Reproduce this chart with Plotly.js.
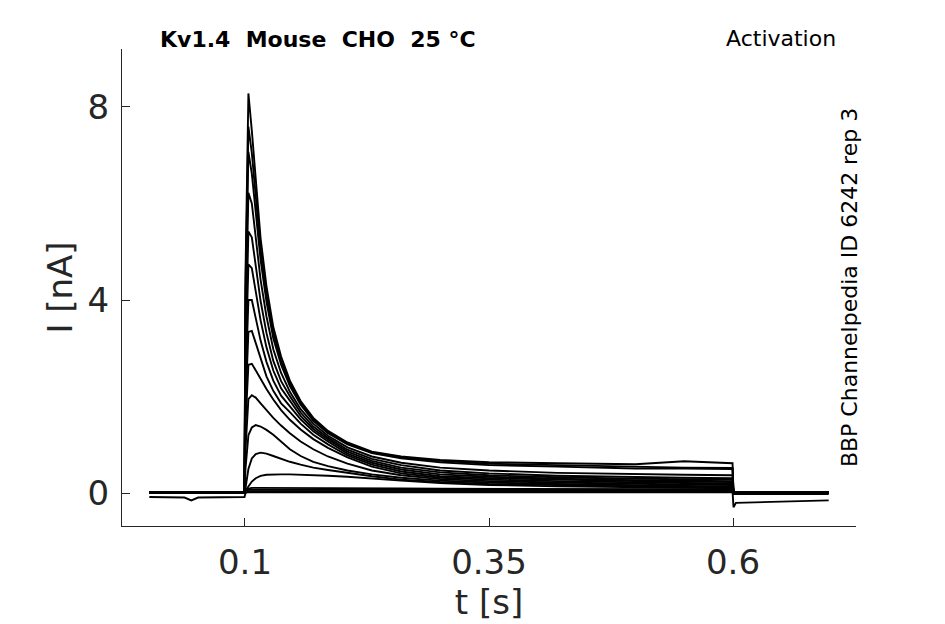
<!DOCTYPE html>
<html>
<head>
<meta charset="utf-8">
<script src="https://cdn.plot.ly/plotly-3.0.1.min.js"></script>
<style>
  html, body { margin: 0; padding: 0; background: white; }
  #chart { width: 945px; height: 624px; }
</style>
</head>
<body>
<div id="chart"></div>
<script>
// sample times [s] shared by all sweeps
var tSec = [0.002, 0.038, 0.045, 0.052, 0.0995, 0.1005, 0.1035, 0.107, 0.111, 0.116,
            0.122, 0.129, 0.137, 0.146, 0.157, 0.17, 0.185, 0.205, 0.23, 0.26,
            0.3, 0.35, 0.42, 0.5, 0.55, 0.5995, 0.6005, 0.603, 0.698];

// current [nA] per sweep
var sweep1  = [0.02,0.02,0.02,0.02,0.02, 4.5, 8.28,7.51,6.44,5.28,4.29,3.44,2.83,2.33,1.91,1.56,1.29,1.05,0.86,0.76,0.69,0.64,0.62,0.60,0.66,0.62, 0.01,0.01,0.02];
var sweep2  = [0.02,0.02,0.02,0.02,0.02, 4.2, 7.59,7.05,6.10,5.05,4.12,3.32,2.74,2.27,1.87,1.53,1.27,1.03,0.84,0.74,0.67,0.61,0.58,0.54,0.53,0.52, 0.0,0.0,0.01];
var sweep3  = [0.01,0.01,0.01,0.01,0.01, 3.9, 7.07,6.62,5.78,4.83,3.97,3.21,2.66,2.22,1.83,1.50,1.24,1.01,0.83,0.72,0.64,0.58,0.55,0.51,0.51,0.50, 0.02,0.02,0.02];
var sweep4  = [0.02,0.02,0.02,0.02,0.02, 3.4, 6.22,6.00,5.25,4.42,3.66,2.98,2.49,2.10,1.74,1.44,1.19,0.95,0.76,0.63,0.53,0.47,0.42,0.39,0.38,0.37, 0.0,0.01,0.0];
var sweep5  = [0.02,0.02,0.02,0.02,0.02, 3.0, 5.42,5.30,4.70,3.98,3.32,2.74,2.32,2.01,1.67,1.38,1.15,0.90,0.71,0.58,0.47,0.41,0.36,0.33,0.32,0.31, 0.01,0.01,0.01];
var sweep6  = [0.01,0.01,0.01,0.01,0.01, 2.6, 4.74,4.66,4.18,3.58,3.02,2.54,2.17,1.91,1.60,1.33,1.11,0.86,0.67,0.53,0.43,0.37,0.33,0.30,0.29,0.28, 0.0,0.0,0.0];
var sweep7  = [0.02,0.02,0.02,0.02,0.02, 2.2, 4.00,4.00,3.64,3.16,2.72,2.33,2.02,1.81,1.53,1.28,1.07,0.82,0.63,0.49,0.39,0.34,0.30,0.27,0.26,0.25, 0.02,0.02,0.02];
var sweep8  = [0.01,0.01,0.01,0.01,0.01, 1.8, 3.34,3.36,3.10,2.76,2.42,2.12,1.86,1.68,1.44,1.21,1.01,0.78,0.59,0.45,0.35,0.31,0.28,0.25,0.24,0.23, 0.0,0.0,0.0];
var sweep9  = [0.02,0.02,0.02,0.02,0.02, 1.4, 2.66,2.68,2.55,2.37,2.16,1.94,1.72,1.52,1.32,1.12,0.94,0.74,0.55,0.41,0.32,0.28,0.25,0.22,0.21,0.20, 0.01,0.01,0.01];
var sweep10 = [0.02,0.02,0.02,0.02,0.02, 0.9, 1.95,2.03,1.98,1.86,1.72,1.56,1.40,1.24,1.07,0.91,0.76,0.61,0.47,0.37,0.29,0.25,0.22,0.19,0.18,0.17, 0.0,0.0,0.0];
var sweep11 = [0.01,0.01,0.01,0.01,0.01, 0.5, 1.20,1.36,1.41,1.38,1.31,1.21,1.06,0.91,0.77,0.65,0.56,0.47,0.39,0.32,0.26,0.22,0.19,0.16,0.15,0.14, 0.02,0.02,0.02];
var sweep12 = [0.02,0.02,0.02,0.02,0.02, 0.1, 0.50,0.72,0.81,0.84,0.82,0.77,0.71,0.65,0.59,0.53,0.48,0.42,0.35,0.28,0.23,0.19,0.16,0.14,0.13,0.12, 0.0,0.0,0.0];
var sweep13 = [0.01,0.01,0.01,0.01,0.01, 0.05, 0.15,0.24,0.31,0.36,0.38,0.39,0.39,0.39,0.385,0.375,0.36,0.34,0.30,0.26,0.21,0.17,0.14,0.12,0.11,0.10, 0.01,0.01,0.01];
var sweep14 = [0.02,0.02,0.02,0.02,0.02, 0.08, 0.10,0.11,0.11,0.11,0.11,0.11,0.11,0.11,0.11,0.11,0.10,0.10,0.10,0.10,0.09,0.09,0.09,0.08,0.08,0.08, 0.01,0.01,0.01];
var sweep15 = [0.01,0.01,0.01,0.01,0.01, 0.05, 0.07,0.07,0.07,0.07,0.07,0.07,0.07,0.07,0.07,0.07,0.07,0.06,0.06,0.06,0.06,0.06,0.06,0.06,0.06,0.06, 0.0,0.0,0.0];
var sweep16 = [-0.08,-0.09,-0.15,-0.09,-0.08, 0.0, 0.04,0.04,0.04,0.04,0.04,0.04,0.04,0.04,0.04,0.04,0.04,0.04,0.04,0.04,0.04,0.04,0.04,0.04,0.04,0.04, -0.29,-0.2,-0.15];
var sweep17 = [0.02,0.02,0.02,0.02,0.02, 0.02, 0.03,0.03,0.03,0.03,0.03,0.03,0.03,0.03,0.03,0.03,0.03,0.03,0.03,0.03,0.02,0.02,0.02,0.02,0.02,0.02, -0.02,-0.02,-0.02];

var sweeps = [sweep1, sweep2, sweep3, sweep4, sweep5, sweep6, sweep7, sweep8, sweep9,
              sweep10, sweep11, sweep12, sweep13, sweep14, sweep15, sweep16, sweep17];

var xTicks = [0.1, 0.35, 0.6];
var xTickText = ['0.1', '0.35', '0.6'];
var yTicks = [0, 4, 8];
var yTickText = ['0', '4', '8'];

var data = sweeps.map(function (s) {
    return {
        x: tSec,
        y: s,
        type: 'scatter',
        mode: 'lines',
        line: { color: 'black', width: 1.9 },
        hoverinfo: 'skip',
        showlegend: false
    };
});

var axisColor = '#262626';
var layout = {
    width: 945,
    height: 624,
    paper_bgcolor: 'white',
    plot_bgcolor: 'white',
    font: { family: 'DejaVu Sans', color: axisColor },
    margin: { l: 122, r: 89, t: 49, b: 98 },
    showlegend: false,
    xaxis: {
        range: [-0.026, 0.726],
        tickvals: xTicks,
        ticktext: xTickText,
        ticks: 'inside',
        ticklen: 8,
        tickcolor: axisColor,
        ticklabelstandoff: 6,
        showline: true,
        linecolor: axisColor,
        linewidth: 1,
        showgrid: false,
        zeroline: false,
        tickfont: { size: 34, color: axisColor },
        title: { text: 't [s]', font: { size: 34, color: axisColor }, standoff: 6 }
    },
    yaxis: {
        range: [-0.68, 9.2],
        tickvals: yTicks,
        ticktext: yTickText,
        ticks: 'inside',
        ticklen: 8,
        tickcolor: axisColor,
        ticklabelstandoff: 5,
        showline: true,
        linecolor: axisColor,
        linewidth: 1,
        showgrid: false,
        zeroline: false,
        tickfont: { size: 34, color: axisColor },
        title: { text: 'I [nA]', font: { size: 34, color: axisColor }, standoff: 4 }
    },
    annotations: [
        {
            text: '<b>Kv1.4\u00a0\u00a0Mouse\u00a0\u00a0CHO\u00a0\u00a025 °C</b>',
            xref: 'paper', yref: 'paper', x: 0.049, y: 1.019,
            xanchor: 'left', yanchor: 'middle', showarrow: false,
            font: { size: 22, color: 'black' }
        },
        {
            text: 'Activation',
            xref: 'paper', yref: 'paper', x: 0.9755, y: 1.023,
            xanchor: 'right', yanchor: 'middle', showarrow: false,
            font: { size: 22, color: 'black' }
        },
        {
            text: 'BBP Channelpedia ID 6242 rep 3',
            xref: 'paper', yref: 'paper', x: 0.992, y: 0.499,
            xanchor: 'center', yanchor: 'middle', showarrow: false,
            textangle: -90,
            font: { size: 22, color: 'black' }
        }
    ]
};

//Create the chart
Plotly.newPlot('chart', data, layout, { staticPlot: true });
</script>
</body>
</html>
